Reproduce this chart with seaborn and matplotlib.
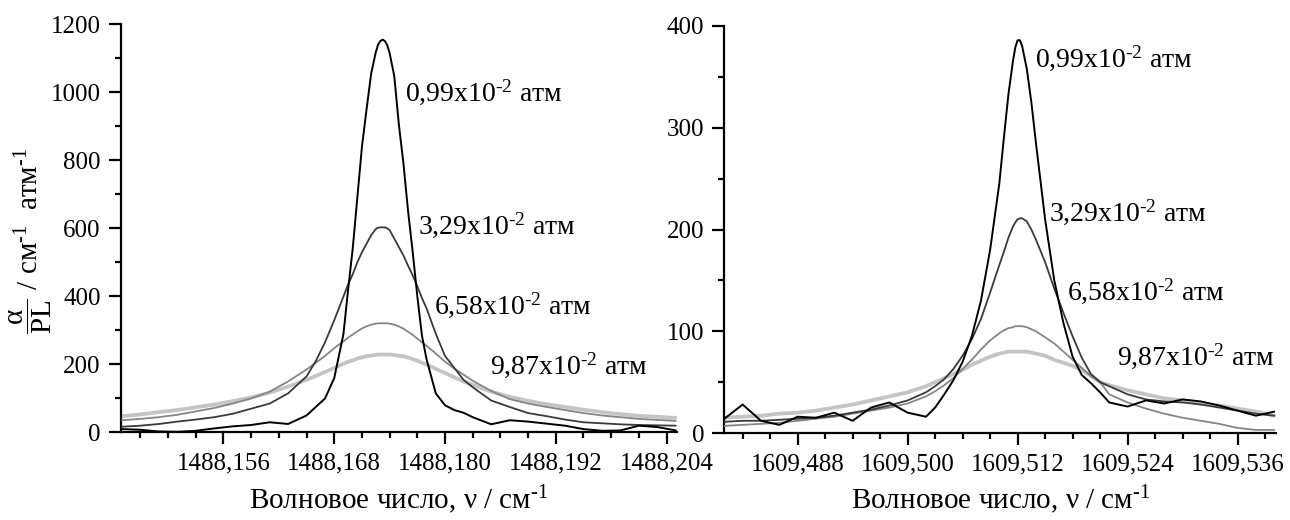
import matplotlib as mpl
import matplotlib.pyplot as plt
from matplotlib.ticker import FixedLocator, MultipleLocator, FuncFormatter
import seaborn as sns

# Line at ~1488.17 cm-1 (left panel).
left_nu = [1488.145, 1488.147, 1488.149, 1488.151, 1488.153, 1488.155,
           1488.157, 1488.159, 1488.161, 1488.163, 1488.165, 1488.166,
           1488.167, 1488.168, 1488.169, 1488.1695, 1488.170, 1488.1705,
           1488.171, 1488.1715, 1488.172, 1488.1725, 1488.17275, 1488.173,
           1488.17325, 1488.1735, 1488.17375, 1488.174, 1488.1745, 1488.175,
           1488.1755, 1488.176, 1488.1765, 1488.177, 1488.1775, 1488.178,
           1488.179, 1488.180, 1488.181, 1488.182, 1488.183, 1488.185,
           1488.187, 1488.189, 1488.191, 1488.193, 1488.195, 1488.197,
           1488.199, 1488.201, 1488.203, 1488.205]
left_p099 = [10, 8, 3, 2, 5, 12, 18, 22, 30, 25, 50, 75, 100, 160, 290, 420,
             540, 690, 840, 950, 1055, 1118, 1140, 1151, 1155, 1150, 1138,
             1115, 1048, 905, 790, 650, 530, 400, 285, 215, 115, 80, 66, 58,
             45, 24, 36, 32, 26, 20, 10, 5, 6, 20, 16, 6]
left_p329 = [17, 20, 25, 32, 38, 45, 55, 70, 85, 115, 165, 210, 265, 330, 400,
             435, 465, 500, 530, 555, 580, 598, 602, 603, 603, 603, 600, 595,
             570, 545, 520, 490, 462, 430, 395, 365, 290, 225, 190, 155, 133,
             94, 75, 57, 48, 38, 30, 27, 24, 22, 21, 20]
left_p658 = [36, 40, 45, 52, 62, 72, 85, 100, 120, 150, 185, 205, 225, 248,
             268, 279, 288, 297, 306, 312, 317, 320, 321, 321, 321, 321, 321,
             320, 317, 312, 305, 296, 287, 276, 265, 255, 232, 208, 188, 170,
             152, 122, 98, 85, 75, 66, 57, 50, 45, 40, 37, 34]
left_p987 = [48, 53, 60, 66, 74, 82, 92, 103, 117, 135, 155, 166, 178, 190,
             202, 208, 212, 217, 221, 224, 226, 228, 229, 229, 229, 229, 229,
             229, 228, 226, 224, 220, 216, 211, 205, 200, 187, 175, 162, 150,
             140, 120, 105, 93, 83, 75, 67, 60, 54, 49, 46, 43]

# Line at ~1609.51 cm-1 (right panel).
right_nu = [1609.480, 1609.482, 1609.484, 1609.486, 1609.488, 1609.490,
            1609.492, 1609.494, 1609.496, 1609.498, 1609.500, 1609.502,
            1609.503, 1609.504, 1609.505, 1609.506, 1609.507, 1609.508,
            1609.509, 1609.510, 1609.5105, 1609.511, 1609.5115, 1609.51175,
            1609.512, 1609.51225, 1609.5125, 1609.513, 1609.5135, 1609.514,
            1609.515, 1609.516, 1609.517, 1609.518, 1609.519, 1609.520,
            1609.521, 1609.522, 1609.524, 1609.526, 1609.528, 1609.530,
            1609.532, 1609.534, 1609.536, 1609.538, 1609.540]
right_p099 = [14, 28, 12, 8, 16, 15, 20, 12, 25, 30, 20, 16, 25, 38, 52, 70,
              95, 130, 180, 245, 290, 333, 366, 379, 386, 386, 380, 358, 325,
              285, 210, 150, 108, 75, 57, 49, 40, 30, 26, 32, 29, 33, 31, 27,
              22, 17, 21]
right_p329 = [11, 12, 12, 13, 14, 15, 17, 20, 23, 27, 32, 40, 46, 53, 63, 76,
              92, 112, 138, 165, 178, 192, 203, 207, 210, 211, 211, 208, 200,
              190, 168, 142, 118, 95, 74, 58, 50, 46, 38, 33, 31, 30, 28, 25,
              22, 19, 17]
right_p658 = [7, 8, 9, 10, 12, 14, 16, 19, 22, 25, 29, 36, 41, 47, 54, 63, 72,
              82, 91, 98, 101, 103, 104, 105, 105, 105, 105, 104, 102, 100, 94,
              88, 80, 72, 64, 56, 50, 38, 30, 24, 19, 15, 12, 9, 5, 3, 3]
right_p987 = [15, 16, 17, 19, 20, 22, 25, 28, 32, 36, 40, 46, 50, 54, 58, 62,
              67, 71, 75, 78, 79, 80, 80, 80, 80, 80, 80, 80, 79, 78, 76, 72,
              69, 66, 62, 56, 50, 47, 42, 38, 34, 32, 29, 27, 24, 21, 17]

left_ticks = [1488.156, 1488.168, 1488.180, 1488.192, 1488.204]
right_ticks = [1609.488, 1609.500, 1609.512, 1609.524, 1609.536]

pressures = ['0,99', '3,29', '6,58', '9,87']
colors = ['#000000', '#3a3a3a', '#858585', '#c4c4c4']
widths = [1.4, 1.3, 1.3, 2.7]

# label anchors (left edge, baseline) in data coords
left_label_xy = [(1488.1757, 976), (1488.1771, 584), (1488.1788, 349),
                 (1488.1849, 173)]
right_label_xy = [(1609.5139, 360), (1609.5154, 209), (1609.5174, 131),
                  (1609.5228, 67)]

sns.set_style("ticks")
plt.rcParams['font.family'] = ['Liberation Serif', 'DejaVu Serif']
plt.rcParams['mathtext.fontset'] = 'custom'
plt.rcParams['mathtext.rm'] = 'Liberation Serif'
plt.rcParams['mathtext.it'] = 'Liberation Serif:italic'
plt.rcParams['mathtext.bf'] = 'Liberation Serif:bold'
plt.rcParams['lines.solid_joinstyle'] = 'round'
plt.rcParams['text.color'] = 'black'
plt.rcParams['axes.labelcolor'] = 'black'
plt.rcParams['axes.edgecolor'] = 'black'
plt.rcParams['xtick.color'] = 'black'
plt.rcParams['ytick.color'] = 'black'

fig = plt.figure(figsize=(12.9, 5.2), dpi=100)
ax1 = fig.add_axes([0.0938, 0.1683, 0.4308, 0.7850])
ax2 = fig.add_axes([0.5615, 0.1673, 0.4277, 0.7827])


def comma_fmt(v, pos):
    return '{:.3f}'.format(v).replace('.', ',')


def draw_panel(ax, nu, series, label_xy, ticks, xlim, ylim, ymajor, yminor):
    # light grey first so the narrow black line stays on top
    for i in [3, 2, 1, 0]:
        sns.lineplot(x=nu, y=series[i], ax=ax, color=colors[i],
                     linewidth=widths[i], sort=True, zorder=2 + (3 - i))
    for p, (x, y) in zip(pressures, label_xy):
        ax.text(x, y, p + r'x10$^{\text{-2}}$ атм', fontsize=20, ha='left',
                va='baseline', color='black')
    ax.set_xlim(*xlim)
    ax.set_ylim(*ylim)
    ax.xaxis.set_major_locator(FixedLocator(ticks))
    ax.xaxis.set_minor_locator(MultipleLocator(0.003))
    ax.xaxis.set_major_formatter(FuncFormatter(comma_fmt))
    ax.yaxis.set_major_locator(MultipleLocator(ymajor))
    ax.yaxis.set_minor_locator(MultipleLocator(yminor))
    for s in ['top', 'right']:
        ax.spines[s].set_visible(False)
    for s in ['left', 'bottom']:
        ax.spines[s].set_linewidth(1.6)
    ax.tick_params(which='major', length=8.5, width=1.6, labelsize=18,
                   direction='out', pad=6, color='black', labelcolor='black')
    ax.tick_params(which='minor', length=4.5, width=1.6, direction='out')
    ax.set_xlabel(r'Волновое число, ν / см$^{\text{-1}}$', fontsize=21,
                  labelpad=6)
    ax.set_ylabel('')


draw_panel(ax1, left_nu, [left_p099, left_p329, left_p658, left_p987],
           left_label_xy, left_ticks, (1488.1449, 1488.2051), (0, 1200),
           200, 100)
draw_panel(ax2, right_nu, [right_p099, right_p329, right_p658, right_p987],
           right_label_xy, right_ticks, (1609.4800, 1609.5402), (0, 400),
           100, 50)

ax1.set_ylabel(r'$\dfrac{\mathrm{\alpha}}{\mathrm{PL}}$ / см$^{\text{-1}}$'
               r'  атм$^{\text{-1}}$', fontsize=21)
ax1.yaxis.set_label_coords(-0.12, 0.47)

fig.savefig('out.png', dpi=100)
